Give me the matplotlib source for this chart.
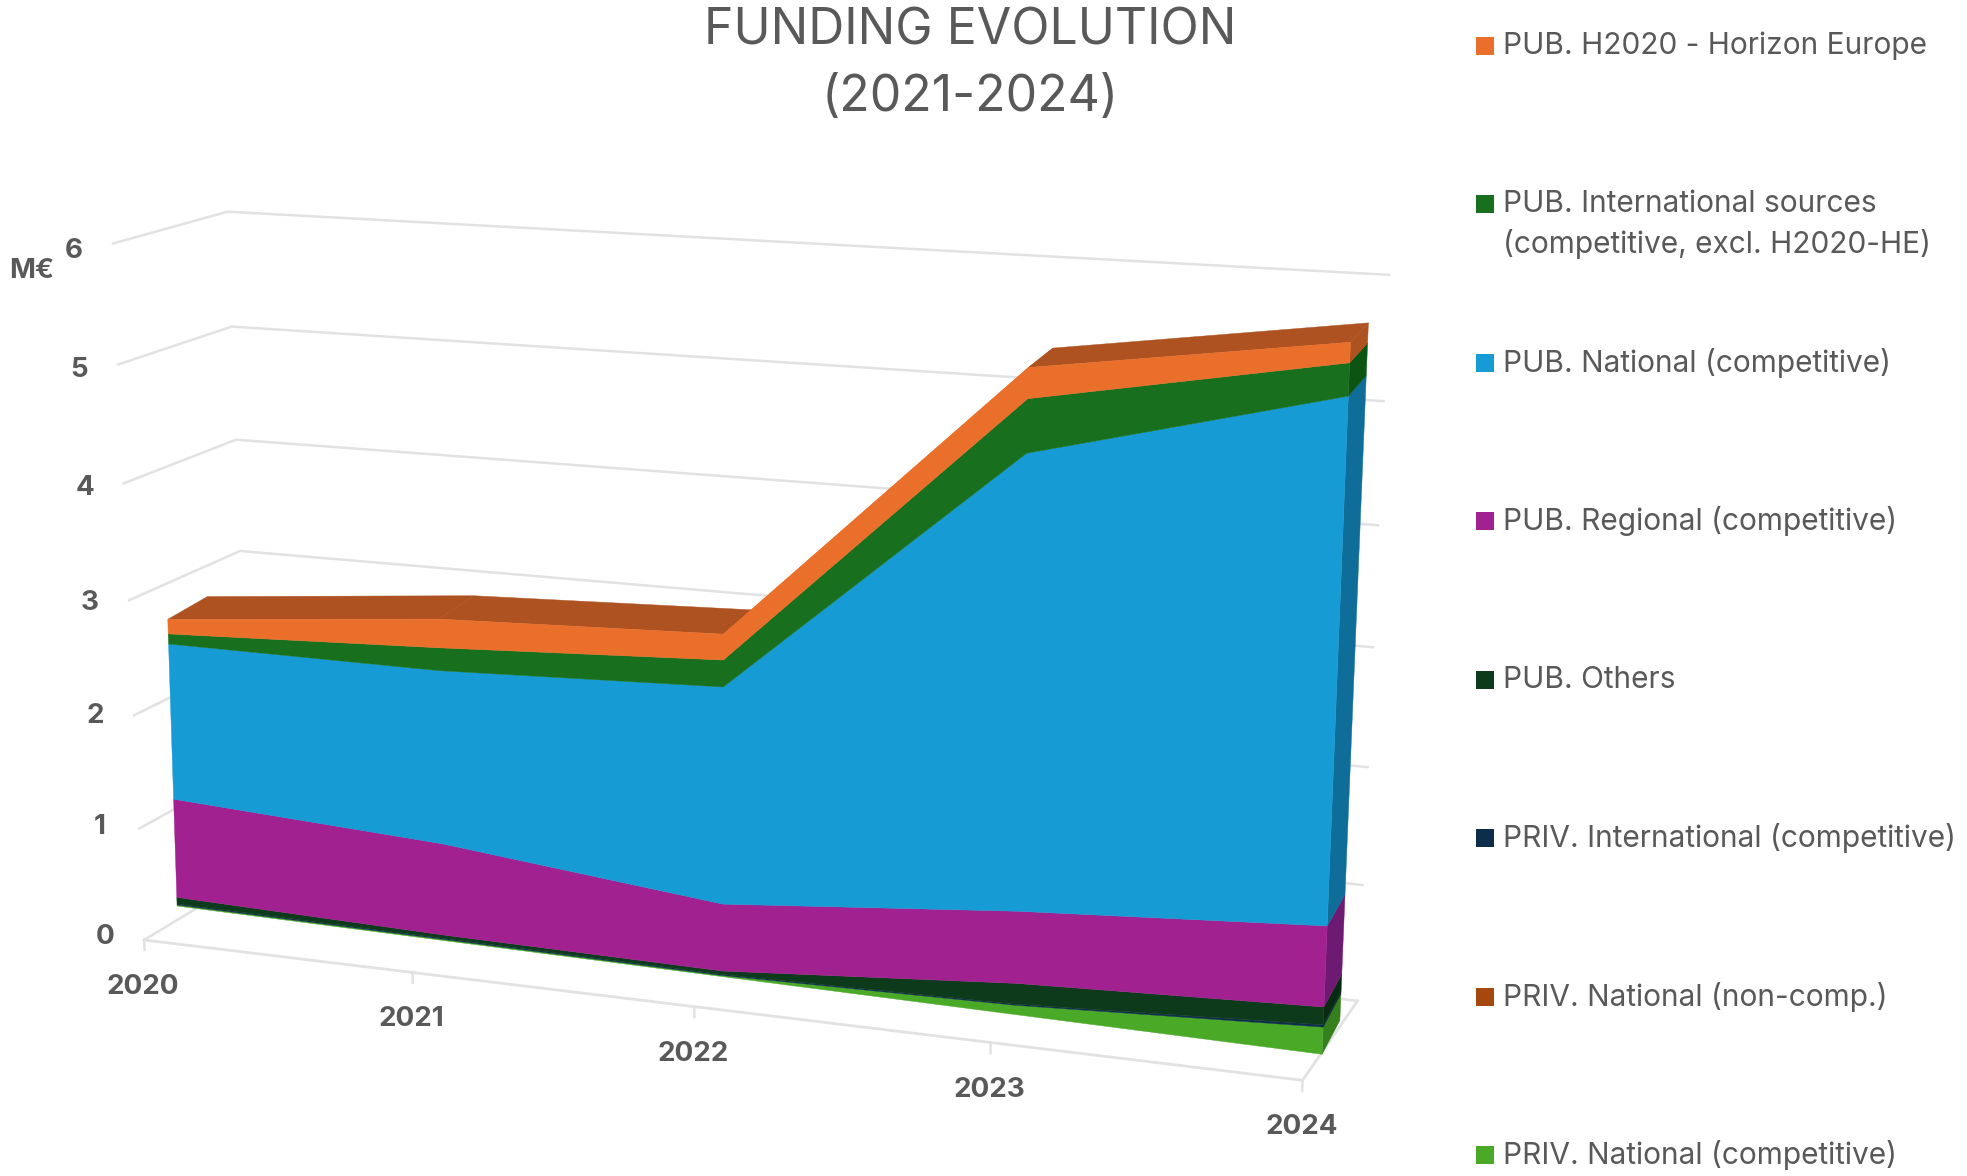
import numpy as np
import matplotlib
matplotlib.use("Agg")
import matplotlib.pyplot as plt

W, H = 1967, 1176
plt.rcParams['font.family'] = ['Inter', 'DejaVu Sans']

# ---------- data (M EUR), bottom of stack first ----------
years = [2020, 2021, 2022, 2023, 2024]
priv_nat_comp = [0.01, 0.01, 0.01, 0.08, 0.23]
priv_nat_non = [0.00, 0.00, 0.00, 0.00, 0.00]
priv_intl = [0.01, 0.01, 0.01, 0.01, 0.02]
pub_others = [0.06, 0.03, 0.03, 0.18, 0.15]
pub_regional = [0.90, 0.82, 0.59, 0.62, 0.68]
pub_national = [1.40, 1.53, 1.88, 3.81, 4.28]
pub_intl = [0.09, 0.20, 0.23, 0.44, 0.26]
pub_h2020 = [0.13, 0.25, 0.22, 0.25, 0.16]

stack = [priv_nat_comp, priv_nat_non, priv_intl, pub_others,
         pub_regional, pub_national, pub_intl, pub_h2020]
front_cols = ['#4aaa28', '#a5480f', '#0c2e4a', '#0e3a1c',
              '#a0218f', '#169bd5', '#18701f', '#ea6f2a']
side_cols = ['#35801d', '#7a350b', '#081f33', '#082a12',
             '#6f1a72', '#0f6d99', '#0c5412', '#ad5220']
top_col = '#ad5220'

legend_labels = ['PUB. H2020 - Horizon Europe',
                 'PUB. International sources\n(competitive, excl. H2020-HE)',
                 'PUB. National (competitive)',
                 'PUB. Regional (competitive)',
                 'PUB. Others',
                 'PRIV. International (competitive)',
                 'PRIV. National (non-comp.)',
                 'PRIV. National (competitive)']
legend_cols = ['#ea6f2a', '#18701f', '#169bd5', '#a0218f',
               '#0e3a1c', '#0c2e4a', '#a5480f', '#4aaa28']
y_ticks = [0, 1, 2, 3, 4, 5, 6]


def fit_camera(world, pix):
    A = []
    for (x, y, z), (u, v) in zip(world, pix):
        A.append([x, y, z, 1, 0, 0, 0, 0, -u*x, -u*y, -u*z, -u])
        A.append([0, 0, 0, 0, x, y, z, 1, -v*x, -v*y, -v*z, -v])
    return np.linalg.svd(np.array(A, float))[2][-1].reshape(3, 4)


def project(P, t, v, d):
    t, v, d = np.broadcast_arrays(np.asarray(t, float), np.asarray(v, float), np.asarray(d, float))
    q = P @ np.vstack([t.ravel(), v.ravel(), d.ravel(), np.ones(t.size)])
    return q[0] / q[2], q[1] / q[2]


# camera of the chart box: (t, v, depth) -> pixel
P_box = fit_camera(
    [[0, 0, 0], [4, 0, 0], [4, 0, 1], [0, 0, 1], [0, 6, 0], [0, 6, 1], [4, 6, 1],
     [1, 0, 0], [2, 0, 0], [3, 0, 0], [0, 3, 0], [0, 3, 1], [4, 3, 1]],
    [[145, 935], [1303, 1082], [1355, 997], [253, 882], [113, 246], [227, 212], [1389, 276],
     [412, 972], [694, 1008], [991, 1045], [128, 598], [240, 547], [1375, 646]])

# camera of the area slab: depth 0 = its front face, depth 1 = its back face
P_area = fit_camera(
    [[0, 0, 0], [2, 0, 0], [4, 0, 0], [4, 0, 1], [0, 2.60, 0], [0, 2.60, 1],
     [2, 2.97, 0], [2, 2.97, 1], [3, 5.38, 0], [3, 5.38, 1], [4, 5.77, 0], [4, 5.77, 1],
     [4, 1.10, 0], [4, 1.10, 1], [0, 0.98, 0], [3, 0.89, 0]],
    [[179, 912], [722, 978], [1321, 1053], [1341, 1020], [167, 617], [210, 595],
     [720, 627], [747, 603], [1028, 370], [1052, 353], [1352, 345], [1372, 327],
     [1325, 922], [1345, 895], [174, 802], [1022, 910]])

fig = plt.figure(figsize=(W / 100, H / 100), dpi=100, facecolor='white')
ax = fig.add_axes([0, 0, 1, 1])
ax.set_xlim(0, W)
ax.set_ylim(H, 0)
ax.axis('off')

T = np.arange(len(years), dtype=float)
Tmax = T[-1]
GRID = '#e2e2e2'

# walls
for v in y_ticks:
    ax.plot(*project(P_box, [0, 0, Tmax], [v, v, v], [0, 1, 1]), color=GRID, lw=1.8, zorder=1)
ax.plot(*project(P_box, [0, Tmax, Tmax], [0, 0, 0], [0, 0, 1]), color=GRID, lw=2, zorder=1)
for t in T:
    ax.plot(*project(P_box, [t, t], [0, -0.09], [0, 0]), color=GRID, lw=1.8, zorder=1)

cum = np.cumsum(np.array(stack, float), axis=0)
lower = np.vstack([np.zeros(len(T)), cum[:-1]])
total = cum[-1]

# top surface
for i in range(len(T) - 1):
    rising = total[i + 1] - total[i] > 0.5
    tq = [T[i], T[i + 1], T[i + 1], T[i]]
    vq = [total[i], total[i + 1], total[i + 1], total[i]]
    ax.fill(*project(P_area, tq, vq, [0, 0, 1, 1]), color=front_cols[-1] if rising else top_col, lw=0.3, zorder=2)

# right side faces and front faces
for k in range(len(stack)):
    vq = [lower[k][-1], lower[k][-1], cum[k][-1], cum[k][-1]]
    if vq[2] > vq[0]:
        ax.fill(*project(P_area, [Tmax] * 4, vq, [0, 1, 1, 0]), color=side_cols[k], lw=0.3, zorder=3)
    if (cum[k] - lower[k]).max() > 0:
        tt = np.r_[T, T[::-1]]
        vv = np.r_[cum[k], lower[k][::-1]]
        ax.fill(*project(P_area, tt, vv, 0), color=front_cols[k], lw=0.3, zorder=4)

# tick labels
TXT = '#595959'
for v in y_ticks:
    x, y = project(P_box, 0, v, 0)
    ax.text(x[0] - 39, y[0] - 3 + 1.8 * v, str(v), ha='center', va='center', fontsize=20, fontweight='bold', color=TXT)
for t, yr in zip(T, years):
    x, y = project(P_box, t, 0, 0)
    ax.text(x[0] - 1, y[0] + 47, str(yr), ha='center', va='center', fontsize=20, fontweight='bold', color=TXT)
ax.text(32, 271, 'M€', ha='center', va='center', fontsize=20, fontweight='bold', color=TXT)

# title
ax.text(970, 31, 'FUNDING EVOLUTION', ha='center', va='center', fontsize=36, color=TXT)
ax.text(970, 98, '(2021-2024)', ha='center', va='center', fontsize=36, color=TXT)

# legend
ly0, ldy = 45.5, 158.5
for i, (lab, c) in enumerate(zip(legend_labels, legend_cols)):
    yy = ly0 + i * ldy
    ax.scatter([1485], [yy], marker='s', s=150, color=c, linewidths=0, zorder=5)
    if '\n' in lab:
        a, b = lab.split('\n')
        ax.text(1503, yy, a, ha='left', va='center', fontsize=21.5, color=TXT)
        ax.text(1503, yy + 40, b, ha='left', va='center', fontsize=21.5, color=TXT)
    else:
        ax.text(1503, yy, lab, ha='left', va='center', fontsize=21.5, color=TXT)

fig.savefig('out.png', dpi=100)
